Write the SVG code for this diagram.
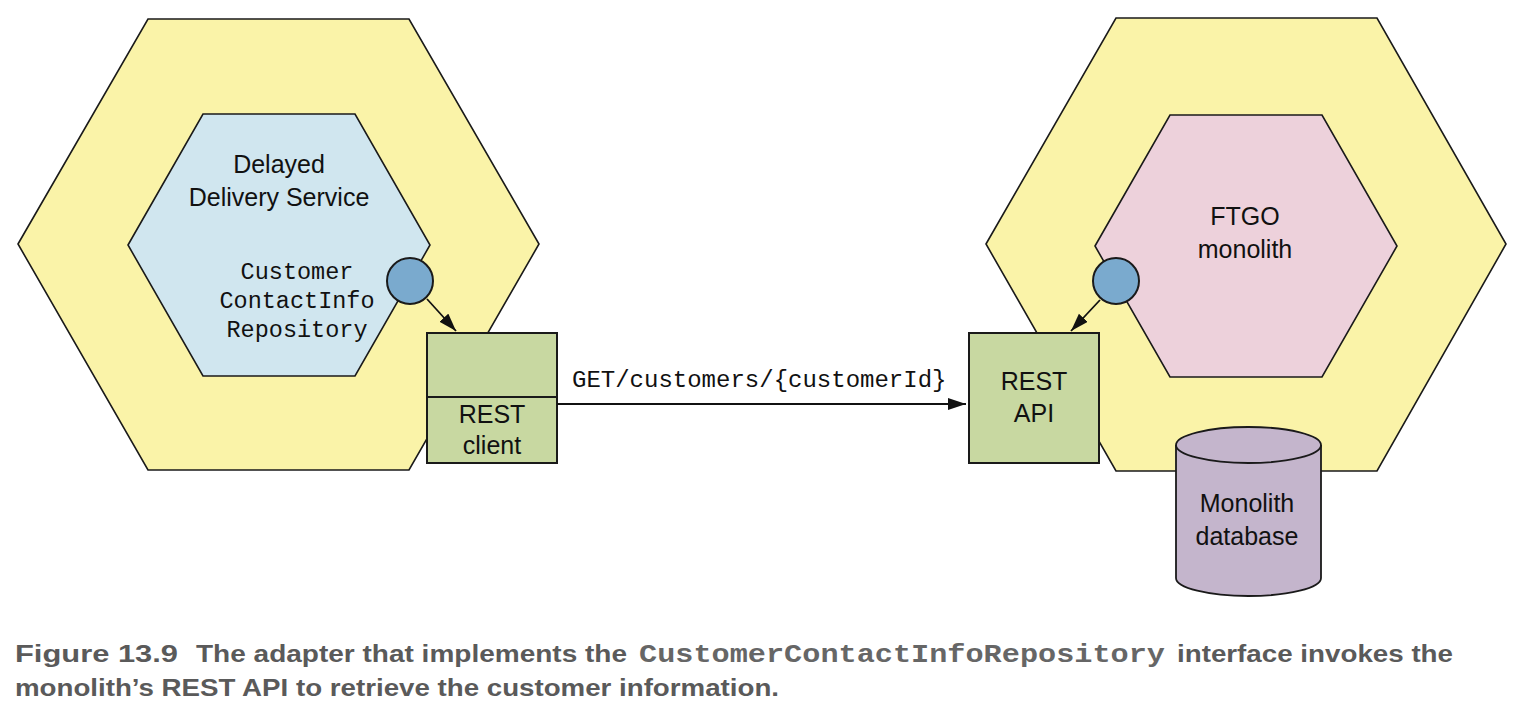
<svg xmlns="http://www.w3.org/2000/svg" width="1524" height="714" viewBox="0 0 1524 714">
<style>
.hex{stroke:#1a1a1a;stroke-width:1.6}
.outer{fill:#FAF3A8}
.blue{fill:#D0E6EF}
.pink{fill:#EDD1DB}
.box{fill:#C8D8A1;stroke:#1a1a1a;stroke-width:2}
.port{fill:#7AAACE;stroke:#1a1a1a;stroke-width:2}
.db{fill:#C4B5CC;stroke:#1a1a1a;stroke-width:1.8}
.lbl{font-family:"Liberation Sans",Arial,sans-serif;font-size:25px;fill:#111;text-anchor:middle}
.mono{font-family:"Liberation Mono","Courier New",monospace;font-size:23.5px;fill:#111}
.edge{stroke:#111;stroke-width:1.8;fill:none}
.cap{font-family:"Liberation Sans",Arial,sans-serif;font-weight:bold;font-size:23px;fill:#5a5a5a}
.capm{font-family:"Liberation Mono","Courier New",monospace;font-weight:bold;font-size:26px;fill:#666}
</style>
<defs>
<marker id="arr" markerUnits="userSpaceOnUse" markerWidth="20" markerHeight="14" refX="18" refY="6" orient="auto">
<path d="M0,0 L18,6 L0,12 z" fill="#111"/>
</marker>
</defs>
<rect width="1524" height="714" fill="#fff"/>

<g id="delayed-delivery-service-adapter">
<polygon class="hex outer" points="18,244 148,19 409,19 539,244 409,470 148,470"/>
</g>
<g id="delayed-delivery-service">
<polygon class="hex blue" points="128,245 203,114 355,114 430,245 355,376 203,376"/>
<text class="lbl" x="279" y="173">Delayed</text>
<text class="lbl" x="279" y="206">Delivery Service</text>
<text class="mono" x="297" y="279" text-anchor="middle">Customer</text>
<text class="mono" x="297" y="308" text-anchor="middle">ContactInfo</text>
<text class="mono" x="297" y="337" text-anchor="middle">Repository</text>
</g>
<g id="port-left">
<circle class="port" cx="410" cy="281" r="23"/>
</g>
<g id="rest-client">
<rect class="box" x="427" y="333" width="130" height="130"/>
<line x1="427" y1="397" x2="557" y2="397" stroke="#1a1a1a" stroke-width="2"/>
<text class="lbl" x="492" y="423">REST</text>
<text class="lbl" x="492" y="454">client</text>
</g>

<g id="ftgo-adapter">
<polygon class="hex outer" points="986,244 1116,18 1377,18 1506,244 1377,471 1116,471"/>
</g>
<g id="ftgo-monolith">
<polygon class="hex pink" points="1095,246 1170,115 1322,115 1397,246 1322,377 1170,377"/>
<text class="lbl" x="1245" y="225">FTGO</text>
<text class="lbl" x="1245" y="258">monolith</text>
</g>
<g id="port-right">
<circle class="port" cx="1116" cy="281" r="23"/>
</g>
<g id="rest-api">
<rect class="box" x="969" y="333" width="130" height="130"/>
<text class="lbl" x="1034" y="390">REST</text>
<text class="lbl" x="1034" y="422">API</text>
</g>
<g id="monolith-database">
<path class="db" d="M1176,445 L1176,578 A72.5,18 0 0 0 1321,578 L1321,445"/>
<ellipse class="db" cx="1248.5" cy="445" rx="72.5" ry="18"/>
<text class="lbl" x="1247" y="512">Monolith</text>
<text class="lbl" x="1247" y="545">database</text>
</g>

<g id="connectors">
<line class="edge" x1="427" y1="299" x2="456" y2="331" marker-end="url(#arr)"/>
<line class="edge" x1="1100" y1="300" x2="1071" y2="331" marker-end="url(#arr)"/>
<line class="edge" x1="557" y1="404" x2="966" y2="404" marker-end="url(#arr)"/>
<text class="mono" x="572" y="387" style="font-size:24px">GET/customers/{customerId}</text>
</g>

<g id="caption">
<text class="cap" x="15" y="662" textLength="163" lengthAdjust="spacingAndGlyphs">Figure 13.9</text>
<text class="cap" x="196" y="662" textLength="431" lengthAdjust="spacingAndGlyphs">The adapter that implements the</text>
<text class="capm" x="639" y="662" textLength="526" lengthAdjust="spacingAndGlyphs">CustomerContactInfoRepository</text>
<text class="cap" x="1177" y="662" textLength="276" lengthAdjust="spacingAndGlyphs">interface invokes the</text>
<text class="cap" x="15" y="696" textLength="764" lengthAdjust="spacingAndGlyphs">monolith’s REST API to retrieve the customer information.</text>
</g>
</svg>
